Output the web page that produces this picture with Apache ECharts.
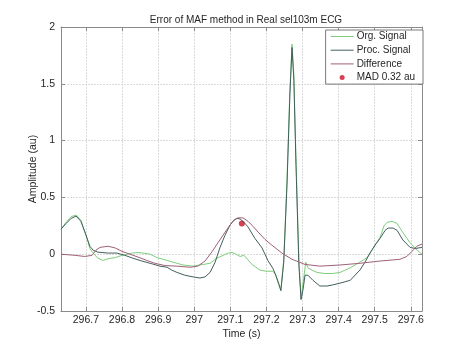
<!DOCTYPE html>
<html>
<head>
<meta charset="utf-8">
<script src="https://cdn.jsdelivr.net/npm/echarts@6/dist/echarts.min.js"></script>
<style>
html,body{margin:0;padding:0;background:#fff;}
#main{width:466px;height:349px;}
</style>
</head>
<body>
<div id="main"></div>
<script>
// ---- Data ----
const xTicks = [296.7, 296.8, 296.9, 297.0, 297.1, 297.2, 297.3, 297.4, 297.5, 297.6];
const xMin = 296.631, xMax = 297.631;
const yMin = -0.5, yMax = 2, yStep = 0.5;

const orgT = [296.631,296.645,296.659,296.673,296.686,296.700,296.711,296.720,296.733,296.747,296.761,296.781,296.800,296.828,296.844,296.858,296.878,296.897,296.925,296.952,296.969,296.997,297.016,297.044,297.063,297.080,297.094,297.105,297.116,297.127,297.138,297.149,297.160,297.171,297.182,297.199,297.218,297.226,297.232,297.240,297.248,297.257,297.265,297.271,297.276,297.282,297.290,297.296,297.301,297.309,297.315,297.326,297.340,297.362,297.384,297.404,297.432,297.459,297.479,297.501,297.515,297.526,297.534,297.548,297.562,297.578,297.598,297.617,297.631];
const orgY = [0.22,0.28,0.33,0.345,0.30,0.17,0.05,0.01,-0.035,-0.055,-0.04,-0.03,-0.01,0.01,0.015,0.01,0.0,-0.03,-0.055,-0.08,-0.095,-0.105,-0.095,-0.08,-0.035,-0.01,0.01,0.015,0.0,-0.02,-0.01,-0.05,-0.09,-0.115,-0.14,-0.15,-0.15,-0.185,-0.25,-0.32,-0.05,0.65,1.44,1.85,1.58,0.83,-0.05,-0.39,-0.27,-0.07,-0.12,-0.14,-0.16,-0.17,-0.17,-0.16,-0.12,-0.07,-0.03,0.08,0.15,0.25,0.28,0.29,0.27,0.19,0.10,0.035,0.0];

const procT = [296.631,296.645,296.659,296.673,296.686,296.700,296.711,296.720,296.733,296.761,296.786,296.808,296.830,296.855,296.878,296.905,296.925,296.938,296.952,296.974,296.997,297.016,297.030,297.044,297.058,297.071,297.085,297.099,297.110,297.118,297.127,297.138,297.149,297.168,297.188,297.204,297.218,297.226,297.235,297.240,297.248,297.257,297.265,297.271,297.276,297.282,297.290,297.296,297.301,297.307,297.315,297.329,297.348,297.368,297.384,297.404,297.432,297.459,297.473,297.487,297.501,297.515,297.529,297.537,297.551,297.562,297.578,297.598,297.612,297.631];
const procY = [0.22,0.27,0.315,0.335,0.29,0.17,0.07,0.035,0.018,0.01,0.01,-0.01,-0.035,-0.06,-0.08,-0.105,-0.115,-0.14,-0.16,-0.185,-0.20,-0.21,-0.20,-0.16,-0.07,0.055,0.165,0.255,0.30,0.315,0.31,0.28,0.24,0.14,0.055,-0.055,-0.125,-0.185,-0.265,-0.32,-0.07,0.61,1.40,1.82,1.53,0.78,-0.10,-0.40,-0.32,-0.185,-0.185,-0.23,-0.28,-0.28,-0.27,-0.255,-0.23,-0.14,-0.07,0.01,0.08,0.14,0.21,0.23,0.23,0.21,0.125,0.06,0.05,0.06];

const diffT = [296.631,296.670,296.697,296.717,296.728,296.739,296.761,296.781,296.800,296.822,296.844,296.869,296.891,296.919,296.952,296.988,297.010,297.030,297.049,297.071,297.091,297.107,297.121,297.135,297.149,297.163,297.177,297.196,297.215,297.243,297.271,297.307,297.348,297.404,297.459,297.515,297.570,297.589,297.603,297.617,297.631];
const diffY = [0.0,-0.01,-0.02,-0.01,0.035,0.06,0.07,0.055,0.025,0.0,-0.025,-0.055,-0.08,-0.10,-0.105,-0.115,-0.105,-0.06,0.02,0.125,0.22,0.29,0.32,0.32,0.29,0.245,0.195,0.13,0.08,0.01,-0.045,-0.09,-0.105,-0.095,-0.08,-0.06,-0.045,-0.02,0.025,0.07,0.09];

const madT = [297.132];
const madY = [0.27];

const names = ['Org. Signal', 'Proc. Signal', 'Difference', 'MAD 0.32 au'];

// ---- Chart ----
const zip = (a, b) => a.map((v, i) => [v, b[i]]);
const FONT = 'Liberation Sans, Arial, sans-serif';
const txt = '#262626';
const axisCol = '#8a8a8a';
const gridCol = '#dadada';
const fmtX = v => String(parseFloat(Number(v).toFixed(1)));
const lineIcon = 'path://M0,0H23V1H0Z';

const chart = echarts.init(document.getElementById('main'), null, {renderer: 'canvas'});
chart.setOption({
  backgroundColor: '#ffffff',
  animation: false,
  title: {
    text: 'Error of MAF method in Real sel103m ECG',
    left: 241, textAlign: 'center', top: 10,
    textStyle: {fontFamily: FONT, fontSize: 10, fontWeight: 'normal', color: txt}
  },
  grid: {left: 61, right: 44, top: 27, bottom: 38, containLabel: false},
  legend: {
    orient: 'vertical',
    right: 43, top: 30,
    padding: [0, 8, 0, 5],
    backgroundColor: '#ffffff',
    borderColor: '#7a7a7a', borderWidth: 1, borderRadius: 0,
    itemWidth: 23, itemHeight: 5, itemGap: 0.7,
    textStyle: {fontFamily: FONT, fontSize: 10, lineHeight: 13, color: txt, padding: [0,0,0,-2]},
    data: [
      {name: names[0], icon: lineIcon}, {name: names[1], icon: lineIcon}, {name: names[2], icon: lineIcon},
      {name: names[3], icon: 'circle'}
    ]
  },
  xAxis: [{
    type: 'value', min: xMin, max: xMax, position: 'bottom',
    name: 'Time (s)', nameLocation: 'middle', nameGap: 18, nameMoveOverlap: false,
    nameTextStyle: {fontFamily: FONT, fontSize: 10.5, color: txt},
    axisLine: {show: true, onZero: false, lineStyle: {color: axisCol, width: 1}},
    axisTick: {show: true, inside: true, length: 4, customValues: xTicks, lineStyle: {color: axisCol}},
    axisLabel: {customValues: xTicks, formatter: fmtX, margin: 4, fontFamily: FONT, fontSize: 10.5, color: txt},
    splitLine: {show: true, lineStyle: {color: gridCol, width: 1, type: [2, 1]}}
  }, {
    type: 'value', min: xMin, max: xMax, position: 'top',
    axisLine: {show: true, onZero: false, lineStyle: {color: axisCol, width: 1}},
    axisTick: {show: true, inside: true, length: 4, customValues: xTicks, lineStyle: {color: axisCol}},
    axisLabel: {show: false, customValues: xTicks},
    splitLine: {show: false}
  }],
  yAxis: [{
    type: 'value', min: yMin, max: yMax, interval: yStep, position: 'left',
    name: 'Amplitude (au)', nameLocation: 'middle', nameGap: 22, nameMoveOverlap: false,
    nameTextStyle: {fontFamily: FONT, fontSize: 10.5, color: txt},
    axisLine: {show: true, onZero: false, lineStyle: {color: axisCol, width: 1}},
    axisTick: {show: true, inside: true, length: 4, lineStyle: {color: axisCol}},
    axisLabel: {margin: 6, fontFamily: FONT, fontSize: 10.5, color: txt},
    splitLine: {show: true, lineStyle: {color: gridCol, width: 1, type: [2, 1]}}
  }, {
    type: 'value', min: yMin, max: yMax, interval: yStep, position: 'right',
    axisLine: {show: true, onZero: false, lineStyle: {color: axisCol, width: 1}},
    axisTick: {show: true, inside: true, length: 4, lineStyle: {color: axisCol}},
    axisLabel: {show: false},
    splitLine: {show: false}
  }],
  series: [
    {name: names[0], type: 'line', data: zip(orgT, orgY), symbol: 'none',
     lineStyle: {color: '#7dcf7d', width: 1}, itemStyle: {color: '#7dcf7d'}},
    {name: names[1], type: 'line', data: zip(procT, procY), symbol: 'none',
     lineStyle: {color: '#445e5e', width: 1}, itemStyle: {color: '#445e5e'}},
    {name: names[2], type: 'line', data: zip(diffT, diffY), symbol: 'none',
     lineStyle: {color: '#a0607a', width: 1}, itemStyle: {color: '#a0607a'}},
    {name: names[3], type: 'scatter', data: zip(madT, madY), symbolSize: 6,
     itemStyle: {color: '#cc1028'}}
  ]
});
</script>
</body>
</html>
